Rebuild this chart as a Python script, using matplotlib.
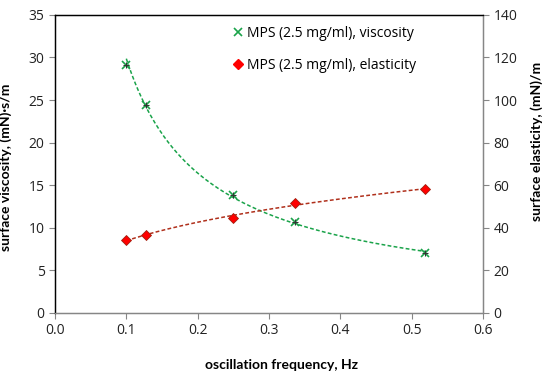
import numpy as np
import matplotlib
matplotlib.use("Agg")
import matplotlib.pyplot as plt
from matplotlib.lines import Line2D

plt.rcParams["font.family"] = ["Open Sans", "DejaVu Sans"]

freq_visc = [0.100, 0.128, 0.250, 0.337, 0.519]
viscosity = [29.1, 24.4, 13.9, 10.7, 7.0]

freq_elas = [0.100, 0.128, 0.250, 0.337, 0.519]
elasticity = [34.4, 36.4, 44.8, 51.6, 58.4]

x_ticks = [0.0, 0.1, 0.2, 0.3, 0.4, 0.5, 0.6]
left_ticks = [0, 5, 10, 15, 20, 25, 30, 35]
right_ticks = [0, 20, 40, 60, 80, 100, 120, 140]

green = "#1aa34a"
red = "#ff0000"
grey = "#868686"


def power_fit(x, y):
    b, a = np.polyfit(np.log(x), np.log(y), 1)
    xs = np.linspace(min(x), max(x), 200)
    return xs, np.exp(a) * xs ** b


fig = plt.figure(figsize=(5.5, 3.73), dpi=100)
ax = fig.add_axes([0.1, 0.161, 0.778, 0.799])
ax2 = ax.twinx()

xs, ys = power_fit(freq_visc, viscosity)
ax.plot(xs, ys, ls=(0, (2.5, 1.5)), color=green, lw=1.1)
ax.plot(freq_visc, viscosity, ls="none", marker="x", ms=6, mew=1.2, color=green)
ax.plot(freq_visc, viscosity, ls="none", marker="+", ms=5, mew=0.8, color="#333333")

xs, ys = power_fit(freq_elas, elasticity)
ax2.plot(xs, ys, ls=(0, (2.5, 1.5)), color="#b0301c", lw=1.1)
ax2.plot(freq_elas, elasticity, ls="none", marker="D", ms=5.5, color=red,
         mec="#a02010", mew=0.6)

ax.set_xlim(0, 0.6)
ax.set_ylim(0, 35)
ax2.set_ylim(0, 140)
ax.set_xticks(x_ticks)
ax.set_xticklabels([f"{t:.1f}" for t in x_ticks])
ax.set_yticks(left_ticks)
ax2.set_yticks(right_ticks)

for a in (ax, ax2):
    a.tick_params(direction="out", length=4, color=grey, labelsize=10,
                  labelcolor="#222222", width=0.8)
    for s in a.spines.values():
        s.set_color(grey)
        s.set_linewidth(0.9)
    a.spines["top"].set_color("black")
    a.spines["left"].set_color("black")

lab = dict(fontsize=10, fontweight="bold", family=["Lato", "DejaVu Sans"])
ax.set_xlabel("oscillation frequency, Hz", **lab)
ax.xaxis.set_label_coords(0.53, -0.155)
ax.set_ylabel("surface viscosity, (mN)·s/m", **lab)
ax.yaxis.set_label_coords(-0.1, 0.49)
ax2.set_ylabel("surface elasticity, (mN)/m", **lab)
ax2.yaxis.set_label_coords(1.11, 0.575)

handles = [
    Line2D([], [], ls="none", marker="x", ms=6, mew=1.2, color=green),
    Line2D([], [], ls="none", marker="D", ms=5.5, color=red),
]
ax.legend(handles, ["MPS (2.5 mg/ml), viscosity", "MPS (2.5 mg/ml), elasticity"],
          loc="upper left", bbox_to_anchor=(0.378, 1.005), frameon=False,
          fontsize=10, handletextpad=0.1, labelspacing=1.2, handlelength=1.2)

fig.savefig("out.png", dpi=100)
